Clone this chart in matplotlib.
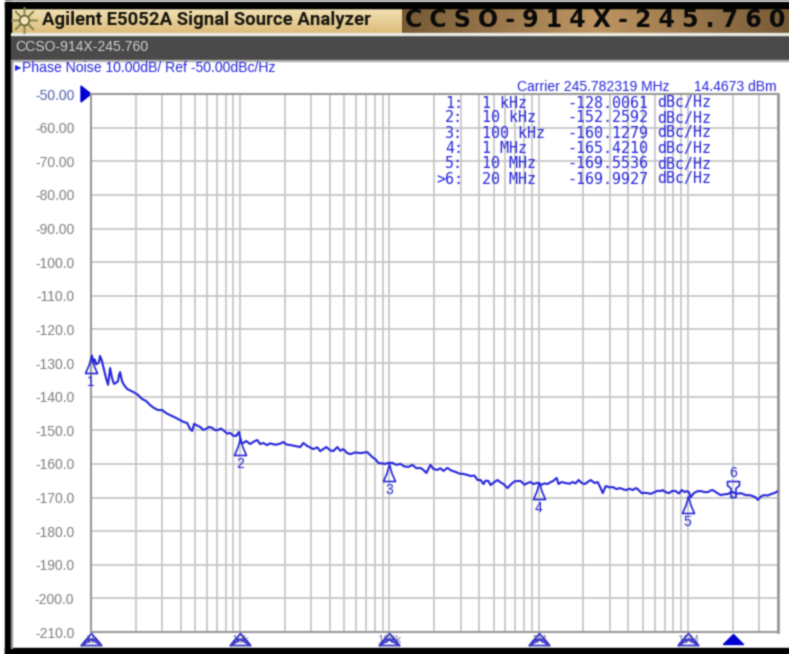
import numpy as np
import matplotlib
matplotlib.use("Agg")
import matplotlib.pyplot as plt
from matplotlib.path import Path
from matplotlib.patches import Rectangle
from matplotlib.transforms import blended_transform_factory

# marker table
marker_ids = ["1:", "2:", "3:", "4:", "5:", ">6:"]
marker_freq_labels = ["1 kHz", "10 kHz", "100 kHz", "1 MHz", "10 MHz", "20 MHz"]
marker_freqs = [1e3, 1e4, 1e5, 1e6, 1e7, 2e7]
marker_values = [-128.0061, -152.2592, -160.1279, -165.4210, -169.5536, -169.9927]

y_ticks = [-50, -60, -70, -80, -90, -100, -110, -120, -130, -140, -150, -160, -170, -180, -190, -200, -210]
y_labels = ["-50.00", "-60.00", "-70.00", "-80.00", "-90.00", "-100.0", "-110.0", "-120.0", "-130.0",
            "-140.0", "-150.0", "-160.0", "-170.0", "-180.0", "-190.0", "-200.0", "-210.0"]
x_ticks = [1e3, 1e4, 1e5, 1e6, 1e7]
x_labels = ["1k", "10k", "100k", "1M", "10M"]

# trace: decades above 1 kHz, and dBc/Hz
trace_dec = [0.0, 0.007, 0.013, 0.020, 0.027, 0.033, 0.040, 0.054, 0.060, 0.074, 0.081, 0.101, 0.114, 0.121, 0.128,
             0.141, 0.154, 0.168, 0.181, 0.188, 0.195, 0.208, 0.221, 0.242, 0.268, 0.295, 0.315, 0.342, 0.369, 0.396,
             0.423, 0.450, 0.477, 0.503, 0.530, 0.564, 0.597, 0.624, 0.644, 0.664, 0.678, 0.691, 0.712, 0.732, 0.752,
             0.772, 0.792, 0.812, 0.832, 0.852, 0.872, 0.893, 0.913, 0.933, 0.953, 0.973, 0.987, 0.993, 1.000, 1.007,
             1.020, 1.040, 1.067, 1.087, 1.114, 1.134, 1.154, 1.181, 1.201, 1.235, 1.268, 1.289, 1.309, 1.336, 1.369,
             1.403, 1.423, 1.450, 1.490, 1.517, 1.537, 1.577, 1.604, 1.624, 1.651, 1.671, 1.691, 1.718, 1.738, 1.772,
             1.805, 1.852, 1.886, 1.906, 1.926, 1.953, 1.973, 1.993, 2.020, 2.047, 2.074, 2.101, 2.128, 2.154, 2.181,
             2.208, 2.228, 2.248, 2.275, 2.295, 2.322, 2.342, 2.362, 2.389, 2.416, 2.443, 2.470, 2.497, 2.523, 2.544,
             2.570, 2.591, 2.611, 2.631, 2.644, 2.664, 2.678, 2.698, 2.725, 2.745, 2.765, 2.792, 2.819, 2.839, 2.859,
             2.879, 2.906, 2.926, 2.946, 2.966, 2.993, 3.013, 3.040, 3.060, 3.081, 3.094, 3.121, 3.134, 3.154, 3.181,
             3.208, 3.228, 3.248, 3.268, 3.289, 3.309, 3.329, 3.349, 3.376, 3.396, 3.416, 3.430, 3.450, 3.477, 3.497,
             3.523, 3.544, 3.564, 3.584, 3.611, 3.631, 3.651, 3.664, 3.691, 3.718, 3.752, 3.779, 3.799, 3.819, 3.832,
             3.852, 3.872, 3.899, 3.919, 3.940, 3.960, 3.980, 3.993, 4.007, 4.020, 4.040, 4.067, 4.087, 4.114, 4.134,
             4.154, 4.168, 4.195, 4.221, 4.248, 4.268, 4.289, 4.302, 4.329, 4.356, 4.389, 4.416, 4.436, 4.456, 4.470,
             4.490, 4.510, 4.537, 4.557, 4.584, 4.604]
trace_db = [-128.5, -127.8, -130.0, -128.9, -129.1, -130.4, -130.3, -129.7, -127.9, -129.4, -130.9, -134.5, -136.5, -134.2, -131.5,
            -134.5, -136.2, -135.9, -135.4, -133.6, -132.7, -135.4, -136.5, -137.7, -138.3, -138.9, -139.5, -140.7, -141.3, -142.5,
            -143.4, -144.0, -144.0, -144.9, -145.5, -146.2, -147.0, -147.6, -147.8, -149.6, -150.2, -148.1, -148.6, -149.0, -149.9,
            -149.6, -149.0, -149.3, -150.0, -149.9, -149.5, -150.2, -151.0, -150.8, -151.6, -151.7, -150.8, -150.5, -152.3, -153.8,
            -153.8, -153.2, -154.1, -153.5, -152.9, -154.1, -153.8, -154.4, -153.9, -154.3, -154.0, -153.5, -154.2, -154.4, -154.7,
            -155.0, -153.8, -154.7, -155.6, -155.1, -156.2, -155.0, -156.0, -156.2, -155.0, -156.1, -155.6, -156.8, -157.1, -156.6,
            -156.8, -156.5, -158.0, -158.6, -159.7, -159.9, -160.0, -159.7, -159.7, -160.3, -160.0, -160.8, -160.9, -160.3, -161.3,
            -161.2, -161.8, -162.7, -160.3, -161.5, -161.8, -161.3, -162.1, -161.2, -162.0, -162.4, -162.9, -163.0, -163.3, -163.6,
            -163.5, -164.8, -164.8, -166.0, -165.0, -165.1, -166.3, -165.6, -164.8, -165.5, -166.0, -167.2, -165.9, -165.2, -165.1,
            -165.1, -166.2, -165.7, -165.4, -166.0, -165.6, -166.3, -165.8, -166.0, -165.4, -165.2, -164.2, -166.0, -165.4, -165.7,
            -165.9, -165.4, -165.8, -164.8, -165.7, -166.0, -165.4, -164.8, -165.7, -165.4, -167.2, -168.7, -166.6, -167.0, -166.9,
            -167.5, -167.2, -167.5, -167.8, -167.4, -167.8, -167.2, -167.5, -168.7, -168.6, -168.9, -168.4, -168.0, -168.1, -167.8,
            -168.4, -168.7, -168.0, -168.1, -168.8, -167.8, -168.4, -168.1, -168.4, -169.9, -168.7, -168.1, -168.1, -168.4, -168.4,
            -167.9, -167.8, -168.6, -169.3, -169.0, -169.0, -168.4, -168.4, -168.9, -168.7, -169.3, -169.3, -169.6, -170.0, -170.7,
            -169.7, -169.3, -169.4, -169.0, -168.6, -168.1]

trace_freq = 1e3 * 10.0 ** np.array(trace_dec)

BLUE = "#2626dc"
GRID = "#c8c8c8"

plt.rcParams["font.family"] = ["Liberation Sans", "DejaVu Sans"]

fig = plt.figure(figsize=(7.89, 6.54), dpi=100, facecolor="white")

# window chrome, in pixels
bg = fig.add_axes([0, 0, 1, 1])
bg.set_xlim(0, 789)
bg.set_ylim(654, 0)
bg.axis("off")

left_band = np.array([np.linspace(0, 1, 64)]).T
tan_top = np.array([242, 226, 182]) / 255
tan_bot = np.array([222, 188, 122]) / 255
grad = tan_top[None, None, :] * (1 - left_band[:, :, None]) + tan_bot[None, None, :] * left_band[:, :, None]
bg.imshow(grad, extent=[10, 402, 33, 8], aspect="auto", zorder=1)

bronze_x = np.abs(np.linspace(-1, 1, 256))
bronze_lo = np.array([190, 150, 98]) / 255
bronze_hi = np.array([118, 90, 54]) / 255
bronze = bronze_lo[None, :] * (1 - bronze_x[:, None]) + bronze_hi[None, :] * bronze_x[:, None]
bg.imshow(bronze[None, :, :], extent=[402, 789, 33, 8], aspect="auto", zorder=1)
bg.set_xlim(0, 789)
bg.set_ylim(654, 0)

bg.add_patch(Rectangle((5, 2), 784, 6, color="black", zorder=2))
bg.add_patch(Rectangle((5, 2), 6, 652, color="black", zorder=2))
bg.add_patch(Rectangle((5, 648), 784, 6, color="black", zorder=2))
bg.add_patch(Rectangle((11, 35), 778, 25, color="#4a4a4a", zorder=2))
bg.add_patch(Rectangle((11, 33), 778, 2, color="#e8e8e0", zorder=2))
bg.add_patch(Rectangle((11, 60), 778, 1, color="#b0b0b0", zorder=2))
bg.add_patch(Rectangle((11, 60), 1.5, 588, color="#9a9a9a", zorder=2))

bg.plot([24], [20], marker=(8, 2, 0), ms=19, mew=1.1, color="#8a8a50", zorder=3)
bg.plot([24], [20], marker="o", ms=7, mfc="#f2e2b6", mec="#5a5a30", mew=1.1, zorder=4)

bg.text(42, 20, "Agilent E5052A Signal Source Analyzer", fontsize=13.4, fontweight="bold",
        family="Roboto", color="#15150f", ha="left", va="center", zorder=5)
bg.text(595, 20, "\u2009\u200a".join("CCSO-914X-245.760"), fontsize=17, fontweight="bold",
        family="DejaVu Sans", color="#0a0a0a", ha="center", va="center", zorder=5)
bg.text(15, 47, "CCSO-914X-245.760", fontsize=10.1, color="#d0d0d0", ha="left", va="center", zorder=5)
bg.text(15, 68, "\u25b6", fontsize=6, color=BLUE, ha="left", va="center", family="DejaVu Sans", zorder=5)
bg.text(22, 68, "Phase Noise 10.00dB/ Ref -50.00dBc/Hz", fontsize=10.1, color=BLUE, ha="left", va="center", zorder=5)
bg.text(517, 87, "Carrier 245.782319 MHz", fontsize=10, color=BLUE, ha="left", va="center", zorder=5)
bg.text(777, 87, "14.4673 dBm", fontsize=10, color=BLUE, ha="right", va="center", zorder=5)
bg.fill([81, 81, 91], [86, 102, 94], color="#0000d0", zorder=4)

# measurement axes
ax = fig.add_axes([91 / 789, (654 - 632) / 654, 686.6 / 789, 538 / 654])
ax.set_zorder(3)
ax.patch.set_alpha(0)
ax.set_xscale("log")
ax.set_xlim(1e3, 4e7)
ax.set_ylim(-210, -50)
ax.set_yticks(y_ticks)
ax.set_yticklabels(y_labels)
ax.set_xticks(x_ticks)
ax.set_xticklabels(x_labels)
ax.xaxis.set_minor_locator(matplotlib.ticker.LogLocator(base=10, subs=range(2, 10), numticks=20))
ax.xaxis.set_minor_formatter(matplotlib.ticker.NullFormatter())
ax.grid(True, which="major", color=GRID, lw=1.3)
ax.grid(True, which="minor", axis="x", color=GRID, lw=1.3)
ax.tick_params(axis="both", which="both", length=0)
ax.tick_params(axis="y", labelsize=10, labelcolor="#808080", pad=12)
ax.tick_params(axis="x", labelsize=8, labelcolor="#7a7aa0", pad=2)
ax.get_yticklabels()[0].set_color("#5060b0")
ax.set_axisbelow(True)
for name in ax.spines:
    ax.spines[name].set_color("#9a9a9a")
    ax.spines[name].set_linewidth(1.5)
ax.spines["right"].set_linewidth(2)

ax.plot(trace_freq, trace_db, color=BLUE, lw=1.5, zorder=3, clip_on=True)

# table over the grid
row_y = [107.5, 122.5, 137.5, 152.5, 168.5, 183.5]
for i in range(6):
    bg_y = 1 - row_y[i] / 654
    fig.text(463 / 789, bg_y, marker_ids[i], family="DejaVu Sans Mono", fontsize=10.8, color=BLUE, ha="right", va="baseline", zorder=6)
    fig.text(482 / 789, bg_y, marker_freq_labels[i], family="DejaVu Sans Mono", fontsize=10.8, color=BLUE, ha="left", va="baseline", zorder=6)
    fig.text(567 / 789, bg_y, "%.4f" % marker_values[i], family="DejaVu Sans Mono", fontsize=10.8, color=BLUE, ha="left", va="baseline", zorder=6)
    fig.text(657 / 789, bg_y, "dBc/Hz", family="DejaVu Sans Mono", fontsize=10.8, color=BLUE, ha="left", va="baseline", zorder=6)

# marker flags hang from the trace value, 6 is flipped above it
flag_down = Path([(0, 0), (-2.5, -9), (-6, -17), (6, -17), (2.5, -9), (0, 0)])
flag_up = Path([(0, 0), (-2.5, 0), (-2.5, 9), (-6, 12), (-6, 16), (6, 16), (6, 12), (2.5, 9), (2.5, 0), (0, 0)])
for i in range(6):
    up = i == 5
    ax.plot([marker_freqs[i]], [marker_values[i]], marker=flag_up if up else flag_down,
            ms=23 if up else 24.5, mfc="none", mec=BLUE, mew=1.2, zorder=4, clip_on=False)
    ax.annotate(str(i + 1), (marker_freqs[i], marker_values[i]), xytext=(0, 17.6 if up else -18.7),
                textcoords="offset points", fontsize=10, color=BLUE, ha="center", va="center", zorder=5)

# stimulus triangles under the axis
trans = blended_transform_factory(ax.transData, ax.transAxes)
stim = Path([(-10, -6), (10, -6), (0, 6), (-10, -6), (-5, 0), (5, 0), (10, -6), (0, 0), (-10, -6)])
stim_solid = Path([(-10, -5), (10, -5), (0, 5), (-10, -5)])
for f in x_ticks:
    ax.plot([f], [-0.0125], marker=stim, ms=14.4, mfc="none", mec="#3a3ac8", mew=1.3, transform=trans, clip_on=False, zorder=5)
ax.plot([marker_freqs[5]], [-0.0135], marker=stim_solid, ms=14.4, color="#0000d0", transform=trans, clip_on=False, zorder=5)

fig.savefig("out.png", dpi=100)

# the source is a soft screenshot, take the edge off
img = plt.imread("out.png")[:, :, :3]
kernel = np.array([0.2, 0.6, 0.2])
for axis in (0, 1):
    img = np.apply_along_axis(lambda c: np.convolve(c, kernel, mode="same"), axis, img)
    img[0], img[-1] = img[1], img[-2]
    img[:, 0], img[:, -1] = img[:, 1], img[:, -2]
plt.imsave("out.png", np.clip(img, 0, 1))
